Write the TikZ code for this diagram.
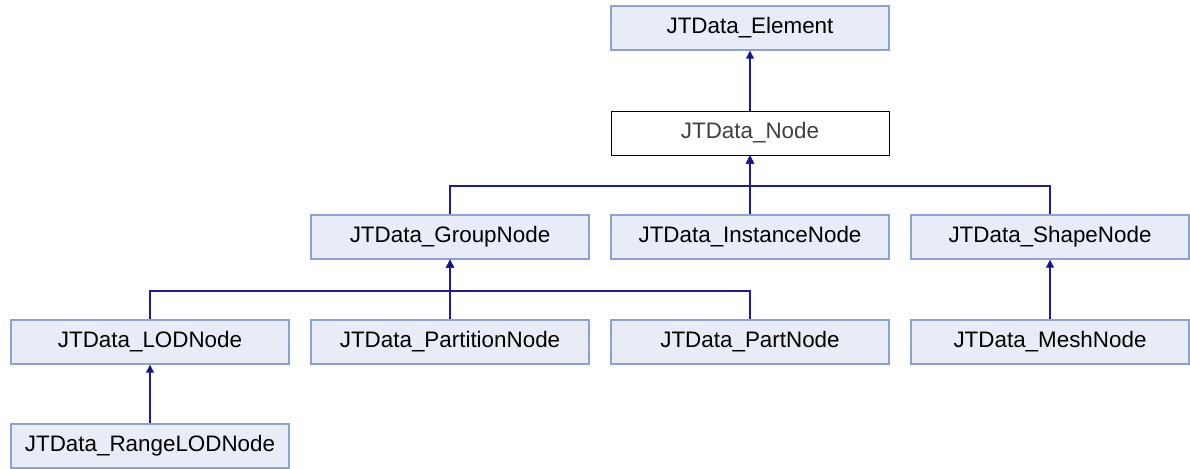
\documentclass[tikz,border=0pt]{standalone}
\usepackage{fontspec}
\setmainfont{Liberation Sans}
\usetikzlibrary{arrows.meta}

\definecolor{boxfill}{RGB}{232,236,246}
\definecolor{boxline}{RGB}{140,162,212}
\definecolor{edgeblue}{RGB}{28,28,150}

\tikzset{
	cls/.style={draw=boxline, fill=boxfill, line width=0.7pt, minimum width=139pt,
		minimum height=22pt, inner sep=0pt, font=\fontsize{11.2}{13}\selectfont},
	cur/.style={cls, draw=black, fill=white, line width=0.5pt, text=black!75},
	inherit/.style={draw=edgeblue, line width=0.6pt,
		-{Triangle[width=4pt,length=4pt,fill=edgeblue!70!black]}}
}

\begin{document}
\begin{tikzpicture}[x=0.5pt,y=-0.5pt]
	\useasboundingbox (0,0) rectangle (1190,468);
	% classes, one row per level
	\node[cls] (elem) at (750,28) {JTData\_Element};
	\node[cur] (node) at (750,133) {JTData\_Node};
	\node[cls] (group) at (450,237) {JTData\_GroupNode};
	\node[cls] (inst) at (750,237) {JTData\_InstanceNode};
	\node[cls] (shape) at (1050,237) {JTData\_ShapeNode};
	\node[cls] (lod) at (150,342) {JTData\_LODNode};
	\node[cls] (part) at (450,342) {JTData\_PartitionNode};
	\node[cls] (partn) at (750,342) {JTData\_PartNode};
	\node[cls] (mesh) at (1050,342) {JTData\_MeshNode};
	\node[cls] (range) at (150,446) {JTData\_RangeLODNode};
	% bus lines under the parents
	\coordinate (nbus) at (750,186);
	\coordinate (gbus) at (450,291);
	% inheritance
	\draw[inherit] (node) -- (elem);
	\draw[inherit] (group.north) |- (nbus) -- (node.south);
	\draw[inherit] (inst.north) -- (node.south);
	\draw[inherit] (shape.north) |- (nbus) -- (node.south);
	\draw[inherit] (lod.north) |- (gbus) -- (group.south);
	\draw[inherit] (part.north) -- (group.south);
	\draw[inherit] (partn.north) |- (gbus) -- (group.south);
	\draw[inherit] (mesh) -- (shape);
	\draw[inherit] (range) -- (lod);
\end{tikzpicture}
\end{document}
